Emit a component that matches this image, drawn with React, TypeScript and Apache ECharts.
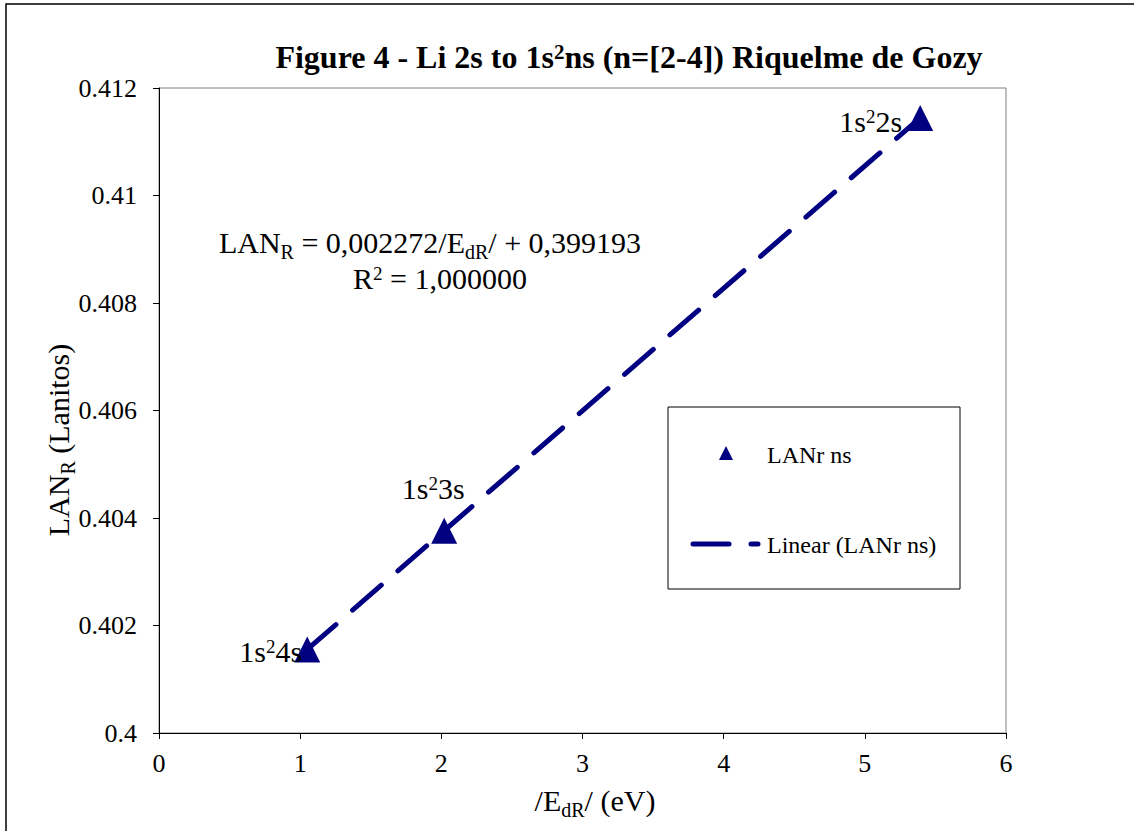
import React, { useEffect, useRef } from "react";
import * as echarts from "echarts";

const pointLabels = ["1s²4s", "1s²3s", "1s²2s"];
const xValues = [1.05, 2.02, 5.392];
const yValues = [0.401555, 0.403762, 0.411443];
const xTicks = { min: 0, max: 6, interval: 1 };
const yTicks = { min: 0.4, max: 0.412, interval: 0.002 };
const seriesName = "LANr ns";
const trendName = "Linear (LANr ns)";

const FONT = "'Liberation Serif', 'Times New Roman', serif";
const NAVY = "#000080";

export default function App() {
  const ref = useRef<HTMLDivElement>(null);
  useEffect(() => {
    document.body.style.margin = "0";
    const chart = echarts.init(ref.current!, null, { renderer: "svg" });
    const pts = xValues.map((x, i) => [x, yValues[i]]);
    const trend = [pts[0], pts[pts.length - 1]];
    const labelPos: any[] = [
      { position: "left", offset: [13, 2] },
      { position: "top", offset: [-11, -8] },
      { position: "left", offset: [0, 4] },
    ];
    const rich = {
      b: { fontFamily: FONT, fontSize: 30, color: "#000", height: 32, lineHeight: 32, verticalAlign: "bottom" },
      sup: { fontFamily: FONT, fontSize: 19, color: "#000", height: 22, lineHeight: 22, verticalAlign: "top" },
      sub: { fontFamily: FONT, fontSize: 20, color: "#000", height: 13, lineHeight: 13, verticalAlign: "bottom" },
    };
    const toRich = (s: string) =>
      s
        .split(/(²)/)
        .filter((t) => t.length > 0)
        .map((t) => (t === "²" ? "{sup|2}" : "{b|" + t + "}"))
        .join("");
    chart.setOption({
      animation: false,
      backgroundColor: "#fff",
      grid: {
        left: 159,
        top: 88,
        right: 128,
        bottom: 98,
        show: true,
        borderColor: "#808080",
        borderWidth: 1,
        containLabel: false,
      },
      xAxis: {
        type: "value",
        min: xTicks.min,
        max: xTicks.max,
        interval: xTicks.interval,
        axisLine: { show: true, onZero: false, lineStyle: { color: "#000", width: 1 } },
        axisTick: { show: true, length: 6, inside: false, lineStyle: { color: "#000" } },
        splitLine: { show: false },
        axisLabel: { fontFamily: FONT, fontSize: 26, color: "#000", margin: 17 },
      },
      yAxis: {
        type: "value",
        min: yTicks.min,
        max: yTicks.max,
        interval: yTicks.interval,
        axisLine: { show: true, onZero: false, lineStyle: { color: "#000", width: 1 } },
        axisTick: { show: true, length: 6, inside: false, lineStyle: { color: "#000" } },
        splitLine: { show: false },
        axisLabel: {
          fontFamily: FONT,
          fontSize: 26,
          color: "#000",
          margin: 22,
          formatter: (v: number) => String(parseFloat(v.toFixed(3))),
        },
      },
      series: [
        {
          name: trendName,
          type: "line",
          data: trend,
          showSymbol: false,
          symbol: "none",
          lineStyle: { color: NAVY, width: 5, type: [38, 22], cap: "round" },
          z: 2,
        },
        {
          name: seriesName,
          type: "scatter",
          data: pts.map((p, i) => ({
            value: p,
            label: {
              show: true,
              color: "#000",
              ...labelPos[i],
              formatter: toRich(pointLabels[i]),
              rich,
            },
          })),
          symbol: "triangle",
          symbolSize: 26,
          itemStyle: { color: NAVY, opacity: 1 },
          z: 3,
        },
      ],
      graphic: [
        {
          type: "polyline",
          shape: { points: [[6, 900], [6, 4], [1200, 4]] },
          style: { stroke: "#000", lineWidth: 1.5, fill: null },
          silent: true,
        },
        {
          type: "text",
          x: 629,
          y: 57,
          style: {
            text: "{t|Figure 4 - Li 2s to 1s}{ts|2}{t|ns (n=[2-4]) Riquelme de Gozy}",
            align: "center",
            verticalAlign: "middle",
            rich: {
              t: { fontFamily: FONT, fontSize: 32, fontWeight: "bold", color: "#000", height: 32, lineHeight: 32, verticalAlign: "bottom" },
              ts: { fontFamily: FONT, fontSize: 21, fontWeight: "bold", color: "#000", height: 22, lineHeight: 22, verticalAlign: "top" },
            },
          },
        },
        {
          type: "text",
          x: 430,
          y: 242,
          style: {
            text: "{b|LAN}{sub|R}{b| = 0,002272/E}{sub|dR}{b|/ + 0,399193}",
            align: "center",
            verticalAlign: "middle",
            rich,
          },
        },
        {
          type: "text",
          x: 440,
          y: 278,
          style: {
            text: "{b|R}{sup|2}{b| = 1,000000}",
            align: "center",
            verticalAlign: "middle",
            rich,
          },
        },
        {
          type: "text",
          x: 595,
          y: 800,
          style: {
            text: "{b|/E}{sub|dR}{b|/ (eV)}",
            align: "center",
            verticalAlign: "middle",
            rich,
          },
        },
        {
          type: "text",
          x: 58,
          y: 440,
          rotation: Math.PI / 2,
          style: {
            text: "{b|LAN}{sub|R}{b| (Lanitos)}",
            align: "center",
            verticalAlign: "middle",
            rich,
          },
        },
        {
          type: "rect",
          shape: { x: 668, y: 407, width: 292, height: 182 },
          style: { stroke: "#000", lineWidth: 1, fill: "#fff" },
          z: 10,
        },
        {
          type: "polygon",
          shape: { points: [[726, 446], [733, 460], [719, 460]] },
          style: { fill: NAVY },
          z: 11,
        },
        {
          type: "text",
          x: 767,
          y: 455,
          style: { text: seriesName, fontFamily: FONT, fontSize: 24, fill: "#000", verticalAlign: "middle" },
          z: 11,
        },
        {
          type: "line",
          shape: { x1: 693, y1: 544, x2: 729, y2: 544 },
          style: { stroke: NAVY, lineWidth: 5, lineCap: "round" },
          z: 11,
        },
        {
          type: "line",
          shape: { x1: 751, y1: 544, x2: 758, y2: 544 },
          style: { stroke: NAVY, lineWidth: 5, lineCap: "round" },
          z: 11,
        },
        {
          type: "text",
          x: 767,
          y: 545,
          style: { text: trendName, fontFamily: FONT, fontSize: 24, fill: "#000", verticalAlign: "middle" },
          z: 11,
        },
      ],
    });
    return () => chart.dispose();
  }, []);
  return <div ref={ref} style={{ width: 1134, height: 831 }} />;
}
